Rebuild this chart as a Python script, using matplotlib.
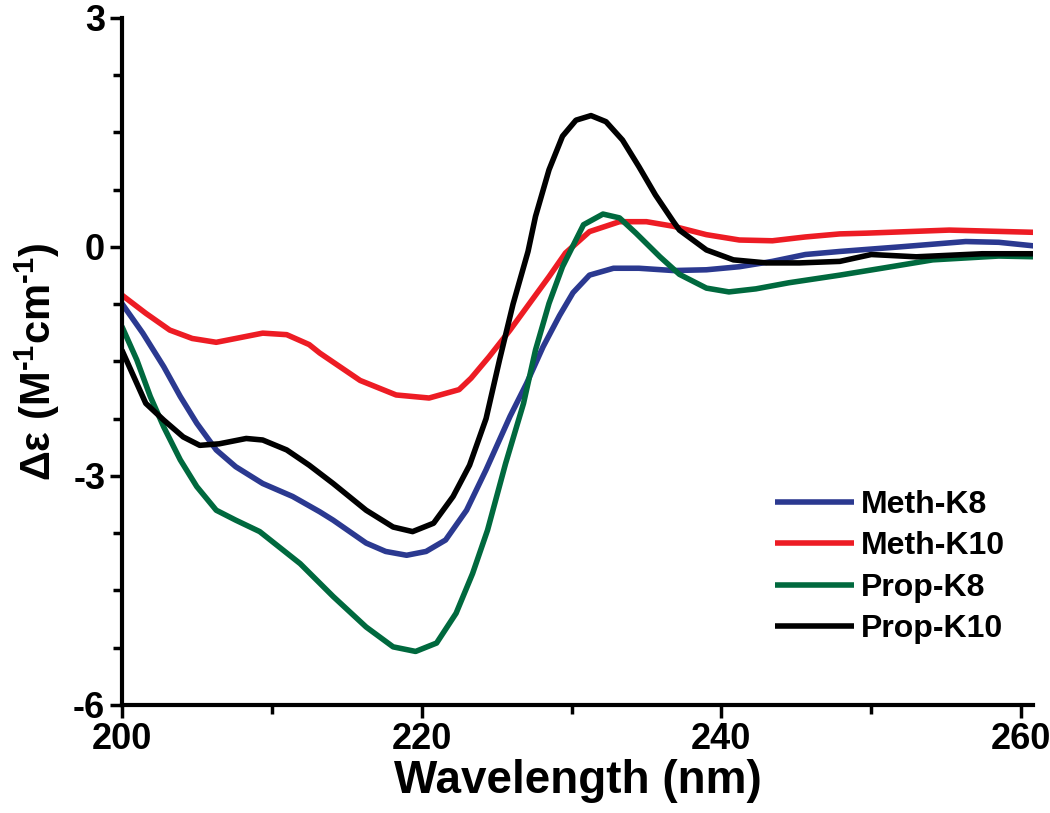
import matplotlib
matplotlib.use("Agg")
import matplotlib.pyplot as plt
from matplotlib.ticker import MultipleLocator

plt.rcParams['font.family'] = ['Liberation Sans', 'DejaVu Sans']
plt.rcParams['font.weight'] = 'bold'
plt.rcParams['axes.unicode_minus'] = False
plt.rcParams['mathtext.fontset'] = 'custom'
plt.rcParams['mathtext.rm'] = 'Liberation Sans:bold'
plt.rcParams['mathtext.bf'] = 'Liberation Sans:bold'
plt.rcParams['mathtext.it'] = 'Liberation Sans:bold:italic'
plt.rcParams['mathtext.sf'] = 'Liberation Sans'

# ---- data ----
meth_k8_x = [200.0, 201.4, 202.8, 203.9, 205.0, 206.3, 207.6, 209.4, 211.4, 213.2, 214.1,
             216.3, 217.6, 219.0, 220.3, 221.6, 223.0, 224.3, 225.9, 227.0, 228.1, 229.2,
             230.1, 231.2, 232.8, 234.5, 236.8, 239.0, 241.2, 243.4, 245.6, 247.9, 251.9,
             256.3, 258.5, 261.0]
meth_k8_y = [-0.74, -1.13, -1.57, -1.96, -2.31, -2.66, -2.88, -3.10, -3.27, -3.47, -3.58,
             -3.88, -3.99, -4.04, -3.99, -3.84, -3.45, -2.92, -2.22, -1.79, -1.31, -0.90,
             -0.60, -0.37, -0.28, -0.28, -0.31, -0.30, -0.26, -0.19, -0.10, -0.06, 0.0,
             0.07, 0.06, 0.01]

meth_k10_x = [200.0, 201.6, 203.2, 204.7, 206.3, 207.6, 209.4, 211.0, 212.5, 213.2, 215.9,
              218.3, 220.5, 222.5, 223.3, 224.5, 225.9, 227.2, 228.5, 229.6, 231.2, 233.2,
              235.0, 236.8, 239.0, 241.2, 243.4, 245.6, 247.9, 249.7, 255.2, 261.0]
meth_k10_y = [-0.63, -0.87, -1.09, -1.20, -1.25, -1.20, -1.13, -1.15, -1.28, -1.39, -1.75,
              -1.94, -1.98, -1.87, -1.72, -1.44, -1.09, -0.74, -0.39, -0.08, 0.20, 0.33,
              0.33, 0.27, 0.16, 0.09, 0.08, 0.13, 0.17, 0.18, 0.22, 0.19]

prop_k8_x = [200.0, 201.0, 201.9, 202.8, 203.9, 205.0, 206.3, 207.6, 209.2, 211.9, 214.1,
             216.3, 218.1, 219.6, 221.0, 222.3, 223.4, 224.4, 225.6, 226.8, 227.6, 228.5,
             229.4, 230.8, 232.1, 233.2, 234.3, 235.9, 237.2, 239.0, 240.5, 242.3, 244.5,
             247.9, 250.7, 254.1, 258.5, 261.0]
prop_k8_y = [-1.04, -1.48, -1.96, -2.36, -2.79, -3.14, -3.45, -3.58, -3.73, -4.15, -4.58,
             -4.98, -5.24, -5.30, -5.19, -4.80, -4.28, -3.71, -2.84, -2.05, -1.35, -0.74,
             -0.26, 0.29, 0.43, 0.38, 0.18, -0.13, -0.36, -0.54, -0.59, -0.55, -0.47,
             -0.37, -0.28, -0.17, -0.12, -0.13]

prop_k10_x = [200.0, 200.8, 201.6, 202.8, 204.1, 205.2, 206.5, 208.3, 209.4, 211.0, 212.5,
              214.1, 216.3, 218.1, 219.4, 220.8, 222.1, 223.2, 224.3, 225.2, 226.1, 227.1,
              227.6, 228.5, 229.4, 230.3, 231.3, 232.3, 233.4, 234.5, 235.6, 236.8, 237.2,
              239.0, 240.8, 243.0, 245.2, 247.9, 250.0, 253.0, 257.4, 261.0]
prop_k10_y = [-1.35, -1.70, -2.05, -2.27, -2.49, -2.60, -2.58, -2.51, -2.53, -2.66, -2.86,
              -3.10, -3.45, -3.67, -3.73, -3.62, -3.27, -2.86, -2.25, -1.48, -0.75, -0.06,
              0.40, 1.01, 1.45, 1.66, 1.72, 1.64, 1.40, 1.05, 0.68, 0.33, 0.22,
              -0.04, -0.17, -0.21, -0.21, -0.19, -0.10, -0.13, -0.09, -0.09]

series_labels = ['Meth-K8', 'Meth-K10', 'Prop-K8', 'Prop-K10']
series_colors = ['#2B3990', '#ED1C24', '#00693E', '#000000']

x_ticks = [200, 220, 240, 260]
y_ticks = [-6, -3, 0, 3]
y_ticklabels = ['-6', '-3', '0', '3']

# ---- figure ----
fig = plt.figure(figsize=(10.5, 8.13), dpi=100)
ax = fig.add_axes([0.116, 0.133, 0.868, 0.845])

xs = [meth_k8_x, meth_k10_x, prop_k8_x, prop_k10_x]
ys = [meth_k8_y, meth_k10_y, prop_k8_y, prop_k10_y]
for x, y, lab, c in zip(xs, ys, series_labels, series_colors):
    ax.plot(x, y, color=c, lw=4.0, label=lab, solid_capstyle='butt', solid_joinstyle='round')

ax.set_xlim(200, 260.8)
ax.set_ylim(-6, 3)
ax.set_xticks(x_ticks)
ax.set_yticks(y_ticks)
ax.set_yticklabels(y_ticklabels)
ax.xaxis.set_minor_locator(MultipleLocator(10))
ax.yaxis.set_minor_locator(MultipleLocator(0.75))

for s in ['top', 'right']:
    ax.spines[s].set_visible(False)
for s in ['left', 'bottom']:
    ax.spines[s].set_linewidth(3)

ax.tick_params(which='major', direction='out', length=9, width=2.5, labelsize=26, pad=3)
ax.tick_params(which='minor', direction='out', length=6.5, width=2.5)
for lbl in ax.get_xticklabels() + ax.get_yticklabels():
    lbl.set_fontweight('bold')

ax.set_xlabel('Wavelength (nm)', fontsize=33, fontweight='bold', labelpad=2)
ax.set_ylabel(r'$\mathsf{\Delta\varepsilon}$ (M$^{\text{-}1}$cm$^{\text{-}1}$)', fontsize=30,
              fontweight='bold', labelpad=8)

leg = ax.legend(loc='lower right', bbox_to_anchor=(0.99, 0.06), frameon=False,
                handlelength=2.5, handletextpad=0.2, labelspacing=0.36,
                borderaxespad=0.2, prop={'weight': 'bold', 'size': 23})
for line in leg.get_lines():
    line.set_linewidth(4)

fig.savefig('out.png', dpi=100)
